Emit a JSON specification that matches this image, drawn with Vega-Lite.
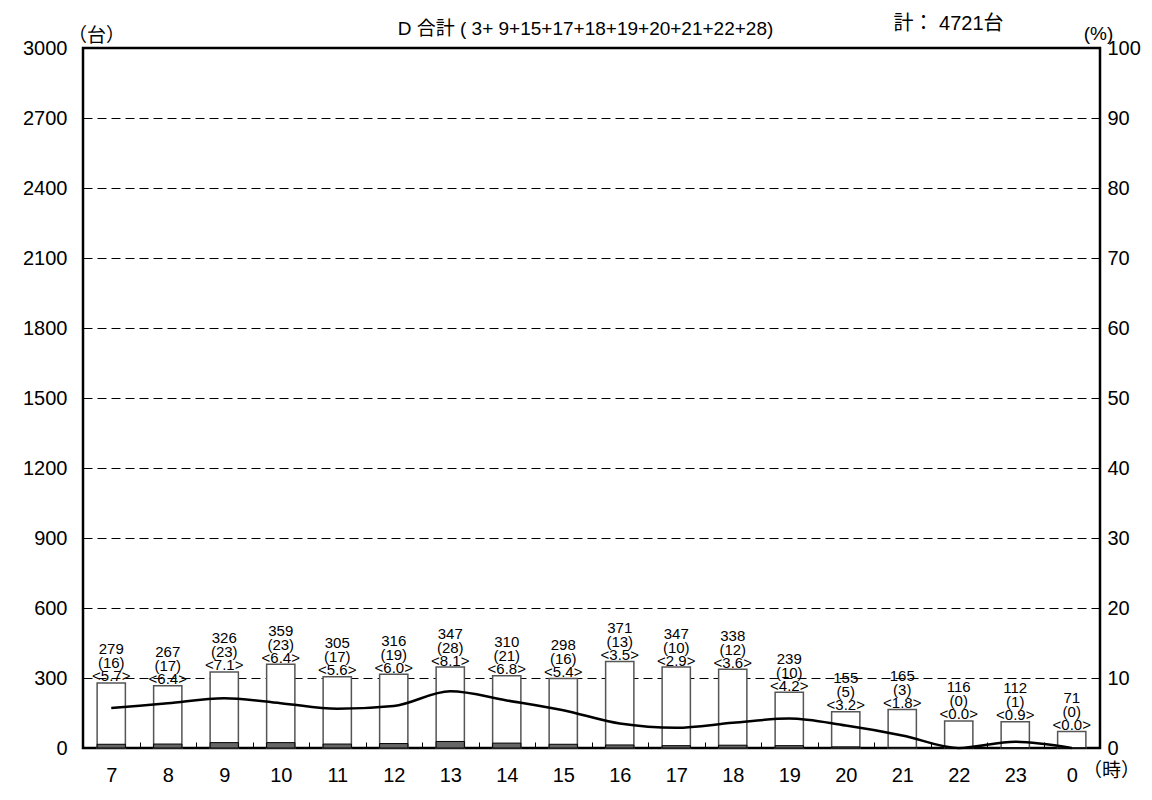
{
  "$schema": "https://vega.github.io/schema/vega-lite/v6.json",
  "width": 1017,
  "height": 700,
  "autosize": {"type": "none"},
  "padding": {"left": 83, "top": 48, "right": 52, "bottom": 52},
  "background": "white",
  "config": {
    "view": {"stroke": "black", "strokeWidth": 2.5},
    "font": "Liberation Sans, Noto Sans CJK JP",
    "axis": {"labelColor": "black", "titleColor": "black", "labelFont": "Liberation Sans", "titleFont": "Liberation Sans, Noto Sans CJK JP", "titleFontWeight": "normal"}
  },
  "title": {
    "text": "D 合計 ( 3+ 9+15+17+18+19+20+21+22+28)",
    "font": "Liberation Sans, Noto Sans CJK JP",
    "fontSize": 19,
    "fontWeight": "normal",
    "color": "black",
    "anchor": "middle",
    "frame": "group",
    "offset": 8,
    "dx": -6,
    "dy": 34
  },
  "data": {
    "values": [
      {"hour": "7", "total": 279, "heavy": 16, "pct": 5.7},
      {"hour": "8", "total": 267, "heavy": 17, "pct": 6.4},
      {"hour": "9", "total": 326, "heavy": 23, "pct": 7.1},
      {"hour": "10", "total": 359, "heavy": 23, "pct": 6.4},
      {"hour": "11", "total": 305, "heavy": 17, "pct": 5.6},
      {"hour": "12", "total": 316, "heavy": 19, "pct": 6.0},
      {"hour": "13", "total": 347, "heavy": 28, "pct": 8.1},
      {"hour": "14", "total": 310, "heavy": 21, "pct": 6.8},
      {"hour": "15", "total": 298, "heavy": 16, "pct": 5.4},
      {"hour": "16", "total": 371, "heavy": 13, "pct": 3.5},
      {"hour": "17", "total": 347, "heavy": 10, "pct": 2.9},
      {"hour": "18", "total": 338, "heavy": 12, "pct": 3.6},
      {"hour": "19", "total": 239, "heavy": 10, "pct": 4.2},
      {"hour": "20", "total": 155, "heavy": 5, "pct": 3.2},
      {"hour": "21", "total": 165, "heavy": 3, "pct": 1.8},
      {"hour": "22", "total": 116, "heavy": 0, "pct": 0.0},
      {"hour": "23", "total": 112, "heavy": 1, "pct": 0.9},
      {"hour": "0", "total": 71, "heavy": 0, "pct": 0.0}
    ]
  },
  "transform": [
    {"calculate": "'<' + format(datum.pct, '.1f') + '>'", "as": "pctLabel"},
    {"calculate": "'(' + datum.heavy + ')'", "as": "heavyLabel"}
  ],
  "layer": [
    {
      "layer": [
        {
          "mark": {"type": "bar", "fill": "white", "stroke": "#555555", "strokeWidth": 1.5},
          "encoding": {
            "x": {
              "field": "hour", "type": "ordinal", "sort": null,
              "scale": {"paddingInner": 0.5, "paddingOuter": 0.25},
              "axis": {
                "orient": "bottom", "domain": false, "grid": false,
                "ticks": true, "tickSize": -6, "tickColor": "black", "tickWidth": 1,
                "tickOffset": 28.25, "labelOffset": -28.25,
                "labelAngle": 0, "labelFontSize": 20, "labelPadding": 23,
                "title": "（時）", "titleFontSize": 19, "titleX": 1028, "titleY": 22,
                "titleAlign": "center", "titleBaseline": "middle", "titleAngle": 0
              }
            },
            "y": {
              "field": "total", "type": "quantitative",
              "scale": {"domain": [0, 3000], "nice": false},
              "axis": {
                "values": [0, 300, 600, 900, 1200, 1500, 1800, 2100, 2400, 2700, 3000],
                "format": "d",
                "grid": true, "gridDash": [9, 5], "gridColor": "black", "gridWidth": 1, "gridOpacity": 1,
                "domain": false, "tickSize": -6, "tickColor": "black", "tickWidth": 1,
                "labelFontSize": 20, "labelPadding": 22,
                "title": "（台）", "titleFontSize": 19, "titleAngle": 0,
                "titleX": 13, "titleY": -13, "titleAlign": "center", "titleBaseline": "middle"
              }
            }
          }
        },
        {
          "mark": {"type": "bar", "fill": "#666666", "stroke": "black", "strokeWidth": 1},
          "encoding": {
            "x": {"field": "hour", "type": "ordinal", "sort": null},
            "y": {"field": "heavy", "type": "quantitative", "scale": {"domain": [0, 3000], "nice": false}}
          }
        },
        {
          "mark": {"type": "text", "fontSize": 15, "baseline": "alphabetic", "dy": -1.5, "color": "black", "font": "Liberation Sans"},
          "encoding": {
            "x": {"field": "hour", "type": "ordinal", "sort": null},
            "y": {"field": "total", "type": "quantitative", "scale": {"domain": [0, 3000], "nice": false}},
            "text": {"field": "pctLabel"}
          }
        },
        {
          "mark": {"type": "text", "fontSize": 15, "baseline": "alphabetic", "dy": -14.5, "color": "black", "font": "Liberation Sans"},
          "encoding": {
            "x": {"field": "hour", "type": "ordinal", "sort": null},
            "y": {"field": "total", "type": "quantitative", "scale": {"domain": [0, 3000], "nice": false}},
            "text": {"field": "heavyLabel"}
          }
        },
        {
          "mark": {"type": "text", "fontSize": 15, "baseline": "alphabetic", "dy": -28.5, "color": "black", "font": "Liberation Sans"},
          "encoding": {
            "x": {"field": "hour", "type": "ordinal", "sort": null},
            "y": {"field": "total", "type": "quantitative", "scale": {"domain": [0, 3000], "nice": false}},
            "text": {"field": "total", "type": "quantitative"}
          }
        }
      ]
    },
    {
      "mark": {"type": "line", "interpolate": "monotone", "color": "black", "strokeWidth": 2.5},
      "encoding": {
        "x": {
          "field": "hour", "type": "ordinal", "sort": null,
          "axis": {
            "orient": "top", "domain": false, "ticks": false, "labels": false, "grid": false,
            "title": "計： 4721台", "titleFontSize": 20, "titleX": 865, "titleY": -25,
            "titleAlign": "center", "titleBaseline": "middle"
          }
        },
        "y": {
          "field": "pct", "type": "quantitative",
          "scale": {"domain": [0, 100], "nice": false},
          "axis": {
            "orient": "right",
            "values": [0, 10, 20, 30, 40, 50, 60, 70, 80, 90, 100],
            "grid": false, "domain": false, "tickSize": -6, "tickColor": "black", "tickWidth": 1,
            "labelFontSize": 20, "labelPadding": 13,
            "title": "(%)", "titleFontSize": 19, "titleAngle": 0,
            "titleX": -2, "titleY": -15, "titleAlign": "center", "titleBaseline": "middle"
          }
        }
      }
    }
  ],
  "resolve": {"scale": {"y": "independent"}, "axis": {"x": "independent"}}
}
